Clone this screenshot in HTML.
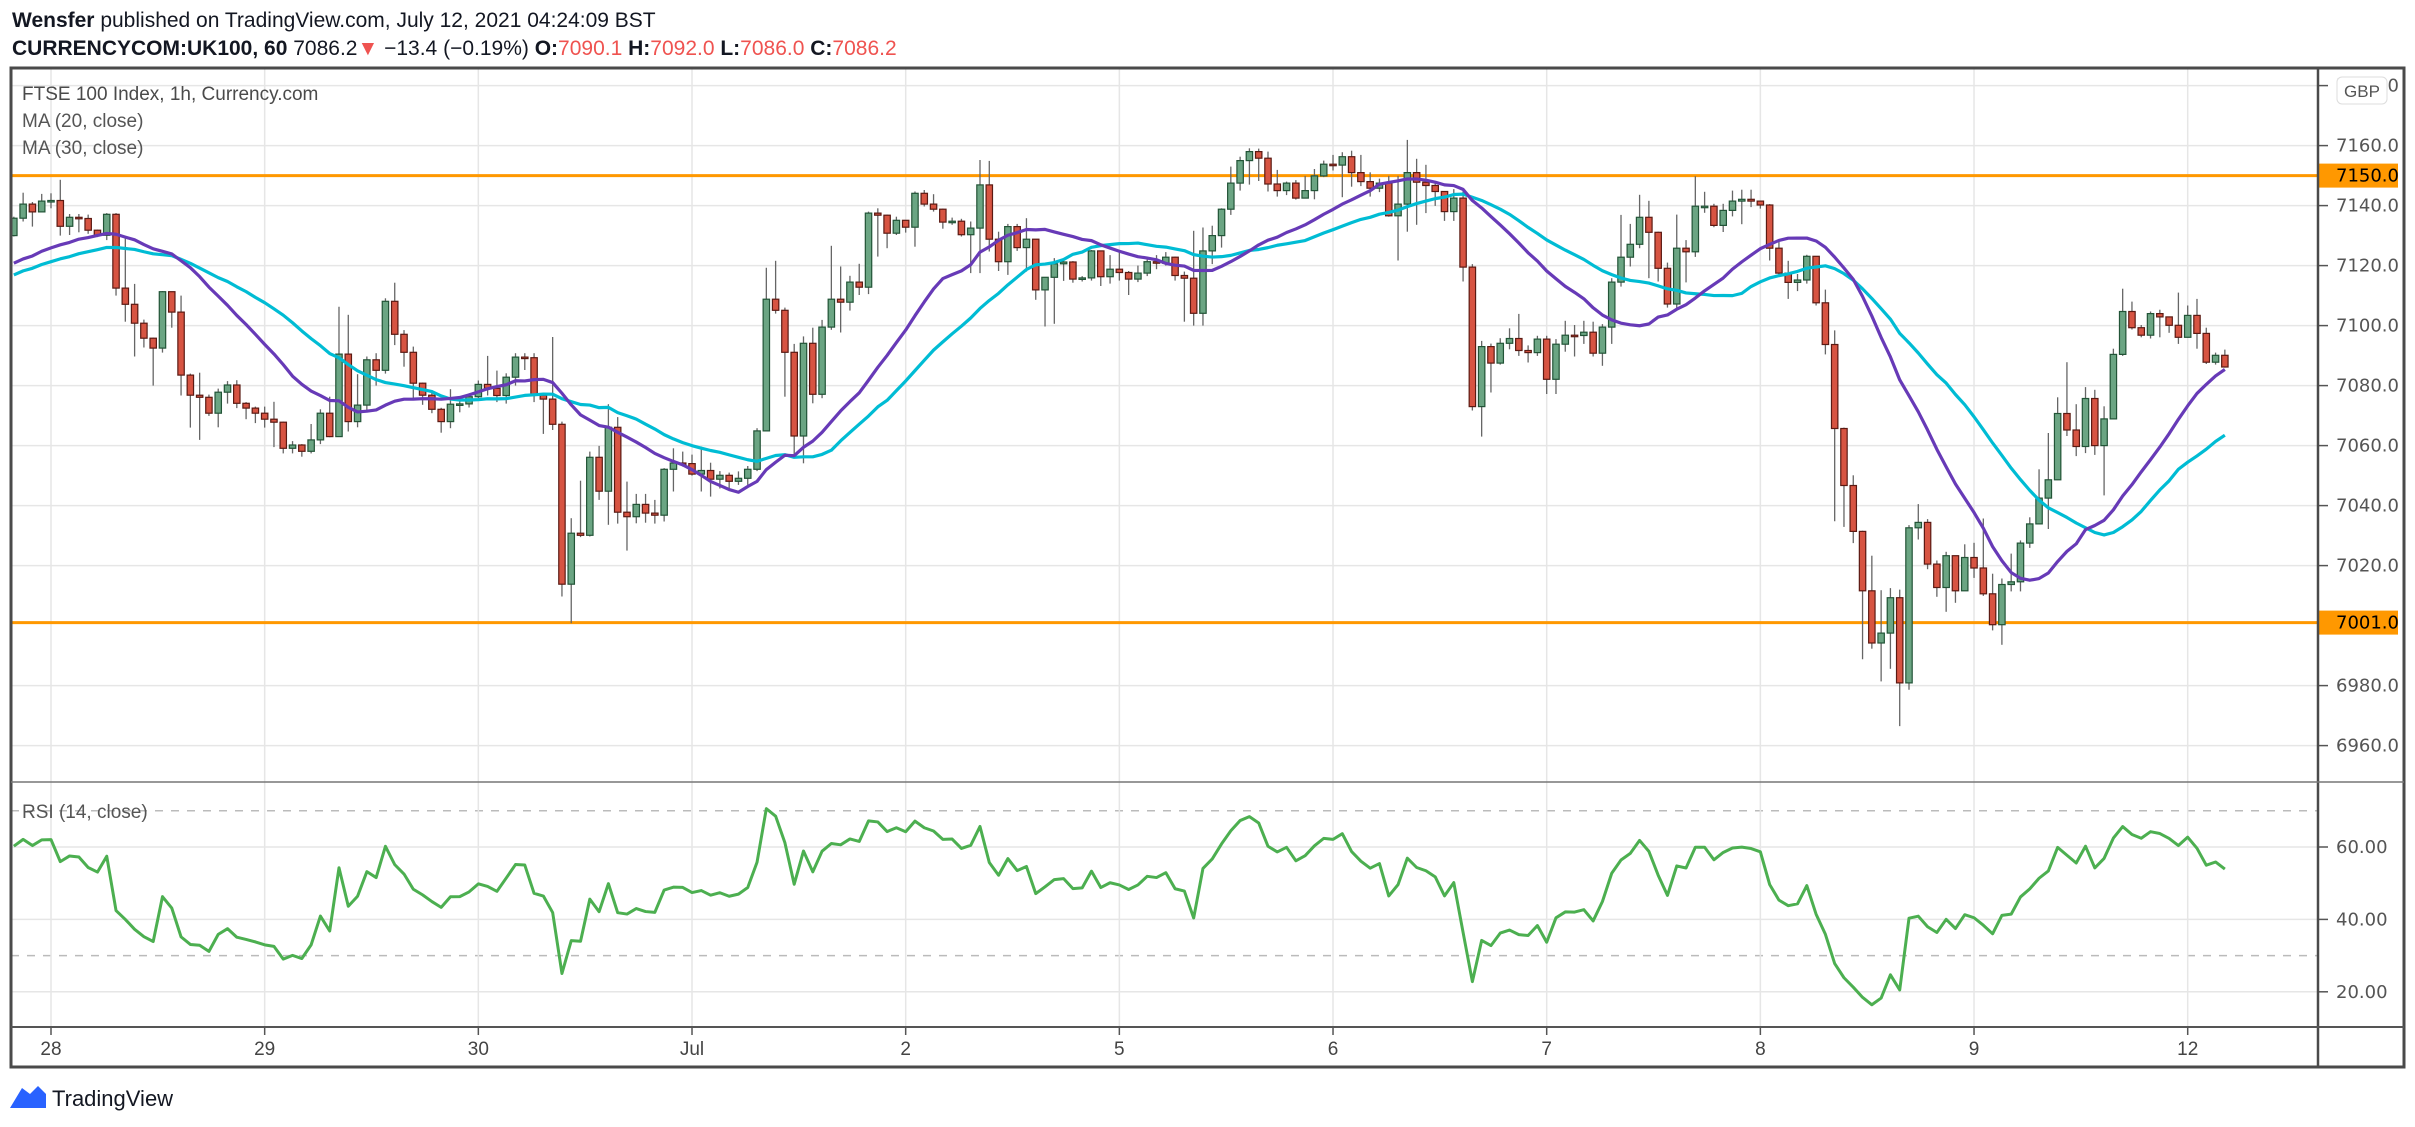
<!DOCTYPE html>
<html><head><meta charset="utf-8"><style>
html,body{margin:0;padding:0;background:#fff;}
svg{display:block;font-family:"Liberation Sans",sans-serif;}
</style></head><body>
<svg id="c" width="2415" height="1127" viewBox="0 0 2415 1127" xmlns="http://www.w3.org/2000/svg">
<defs><clipPath id="rsiclip"><rect x="11" y="783" width="2307" height="243"/></clipPath></defs>
<text x="12" y="27" font-size="21" fill="#131722"><tspan font-weight="bold">Wensfer</tspan> published on TradingView.com, July 12, 2021 04:24:09 BST</text>
<text x="12" y="55" font-size="21" font-weight="bold" fill="#131722">CURRENCYCOM:UK100, 60 <tspan font-weight="normal">7086.2</tspan><tspan fill="#ef5350" font-weight="normal">▼</tspan><tspan font-weight="normal"> −13.4 (−0.19%)</tspan> O:<tspan fill="#ef5350" font-weight="normal">7090.1</tspan> H:<tspan fill="#ef5350" font-weight="normal">7092.0</tspan> L:<tspan fill="#ef5350" font-weight="normal">7086.0</tspan> C:<tspan fill="#ef5350" font-weight="normal">7086.2</tspan></text>
<g id="grid"></g>
<g id="levels"></g>
<g id="candles"></g>
<g id="mas"></g>
<g id="rsi" clip-path="url(#rsiclip)"></g>
<g id="axes"></g>
<rect x="11" y="68" width="2393" height="999" fill="none" stroke="#4a4a4a" stroke-width="3"/>
<line x1="2318" y1="68" x2="2318" y2="1067" stroke="#4a4a4a" stroke-width="2.5"/>
<line x1="11" y1="782" x2="2404" y2="782" stroke="#777" stroke-width="1.5"/>
<line x1="11" y1="1027" x2="2404" y2="1027" stroke="#555" stroke-width="2"/>
<text x="22" y="100" font-size="19" fill="#4a4a4a">FTSE 100 Index, 1h, Currency.com</text>
<text x="22" y="127" font-size="19" fill="#555">MA (20, close)</text>
<text x="22" y="154" font-size="19" fill="#555">MA (30, close)</text>
<text x="22" y="818" font-size="19" fill="#555">RSI (14, close)</text>
<rect x="2337" y="77" width="50" height="27" rx="5" fill="#fff" stroke="#ddd"/>
<text x="2362" y="97" font-size="17" fill="#555" text-anchor="middle">GBP</text>
<g>
<path d="M10 1108 L22 1088 L30 1094 L38 1086 L46 1094 L46 1108 Z" fill="#2962ff"/>
<text x="52" y="1106" font-size="22" fill="#131722">TradingView</text>
</g>
</svg>
<script>
const preCloses=[7100,7112,7104,7113,7105,7114,7106,7112,7110,7115,7112,7118,7110,7119,7113,7120,7114,7121,7116,7124,7118,7126,7119,7127,7121,7128,7122,7129,7123];
const closes=[7135.8,7140.5,7137.9,7141.5,7141.7,7133.1,7136.1,7135.7,7131.8,7130.1,7137.1,7112.5,7107.1,7100.8,7095.8,7092.5,7111.3,7104.5,7083.5,7076.8,7076.1,7070.8,7077.8,7080.2,7074.1,7072.5,7070.8,7068.8,7067.8,7059.1,7060.2,7058.1,7061.9,7070.8,7063,7090.5,7068,7073.5,7088.6,7085.1,7108.1,7097.1,7091.1,7080.8,7076.8,7072.1,7068,7073.8,7073.9,7076.3,7080.4,7079.1,7076.7,7082.8,7089.5,7089.3,7076.8,7075.5,7067.1,7013.8,7030.8,7030.1,7056.1,7044.8,7066.1,7037.8,7036.3,7040.4,7037.5,7036.8,7052.1,7054.2,7054.0,7050.5,7051.7,7048.8,7050.1,7048.1,7049.1,7052.1,7064.9,7108.8,7105.1,7091.1,7063.2,7094.1,7077.1,7099.5,7108.8,7107.8,7114.5,7112.8,7137.5,7136.8,7130.8,7135.1,7132.8,7144.1,7140.5,7138.8,7134.5,7134.8,7130.3,7132.5,7146.9,7128.8,7121.3,7133,7126,7128.8,7111.9,7116.1,7120.6,7121.2,7115.5,7115.9,7124.9,7116.3,7118.8,7117.7,7115.5,7117.5,7121.3,7120.8,7122.8,7116.7,7115.8,7104.1,7124.9,7130,7138.8,7147.5,7155,7158,7155.8,7147.2,7145,7147.5,7142.5,7145,7149.9,7153.8,7153.5,7156.3,7151,7148,7145.8,7147.5,7136.6,7140.5,7151,7147.8,7146.7,7144.7,7138,7142.5,7119.5,7073,7093,7087.5,7094.1,7095.7,7091.7,7091,7095.5,7082.1,7093.8,7096.8,7096.7,7097.8,7090.8,7099.5,7114.5,7122.8,7127.1,7136.1,7131.1,7119.1,7107.2,7125.8,7124.6,7139.8,7139.8,7133.4,7138.4,7141.5,7142.1,7141.5,7140.2,7125.8,7117.5,7114.4,7115.2,7123.1,7107.6,7093.7,7065.7,7046.7,7031.4,7011.6,6994.2,6997.5,7009.3,6980.9,7032.6,7034.4,7020.5,7012.7,7023.3,7011.6,7022.7,7019.2,7010.6,7000.3,7013.7,7014.6,7027.5,7033.9,7042.5,7048.6,7070.7,7065.2,7059.7,7075.7,7060,7068.9,7090.4,7104.7,7099.3,7096.8,7104,7102.9,7100.1,7096.1,7103.4,7097.4,7087.8,7090.1,7086.2];
const highs=[7136.3,7144.3,7141.2,7143.9,7144.1,7148.6,7137.2,7137.2,7137.0,7132.0,7137.5,7137.5,7129.7,7113.9,7102.0,7096.0,7111.5,7111.0,7110.0,7084.0,7084.3,7077.0,7079.0,7081.5,7081.8,7074.5,7073.0,7073.0,7074.6,7068.0,7061.5,7060.5,7067.2,7072.1,7076.3,7106.3,7103.6,7083.8,7089.7,7090.8,7109.1,7114.3,7098.5,7093.0,7081.0,7078.5,7072.6,7078.8,7076.0,7077.4,7081.7,7089.9,7085.0,7084.1,7090.8,7090.8,7090.8,7076.9,7096.2,7068.0,7035.8,7048.3,7058.0,7059.9,7073.8,7069.5,7048.0,7043.9,7043.9,7041.9,7052.5,7059.1,7058.0,7057.0,7059.7,7054.3,7051.5,7051.0,7051.4,7053.2,7065.8,7119.3,7121.6,7106.0,7093.9,7096.4,7099.3,7101.9,7126.6,7119.7,7116.6,7120.6,7138.0,7139.1,7137.0,7136.3,7135.1,7144.7,7145.2,7143.8,7139.0,7136.0,7135.6,7134.7,7155.2,7154.9,7131.3,7133.9,7133.9,7135.8,7128.8,7116.1,7122.5,7122.5,7121.5,7116.5,7125.2,7125.0,7123.5,7124.5,7118.2,7120.0,7123.0,7123.5,7124.5,7123.0,7118.0,7131.6,7132.7,7133.3,7139.1,7153.0,7156.3,7159.1,7159.0,7158.0,7151.9,7148.0,7148.5,7149.9,7152.2,7155.0,7156.9,7157.8,7158.3,7156.9,7151.1,7149.0,7149.9,7149.9,7161.9,7155.6,7153.6,7147.5,7144.8,7145.5,7144.7,7120.5,7094.9,7094.0,7095.8,7099.1,7103.9,7093.4,7096.6,7096.6,7095.5,7101.6,7100.2,7101.6,7101.3,7100.5,7115.8,7136.9,7133.9,7143.6,7141.6,7131.3,7121.0,7137.0,7128.5,7149.8,7144.6,7140.6,7140.6,7145.0,7145.3,7145.3,7141.5,7140.5,7128.0,7121.6,7117.2,7123.6,7123.1,7112.0,7098.4,7066.0,7050.1,7031.6,7023.3,7011.8,7012.5,7012.0,7033.5,7040.5,7035.5,7021.7,7024.6,7023.0,7027.1,7027.6,7035.7,7017.3,7015.7,7024.0,7028.4,7036.1,7052.1,7064.2,7076.1,7087.8,7073.8,7079.5,7078.6,7073.1,7092.3,7112.3,7108.0,7100.2,7104.7,7105.3,7100.5,7111.0,7106.7,7108.9,7099.3,7091.0,7092.0];
const lows=[7129.7,7134.7,7133.0,7139.3,7139.1,7130.0,7130.2,7131.1,7130.6,7129.5,7128.5,7110.0,7101.3,7089.7,7092.7,7080.0,7091.0,7099.3,7076.7,7066.0,7061.9,7069.9,7066.1,7074.0,7072.5,7068.8,7067.5,7066.0,7059.5,7057.4,7057.4,7056.3,7057.4,7060.5,7062.8,7063.3,7064.7,7066.1,7071.4,7080.0,7084.0,7093.5,7086.3,7075.8,7073.6,7070.8,7064.3,7065.8,7071.1,7072.7,7075.8,7076.7,7074.5,7074.0,7080.0,7085.2,7074.5,7063.9,7065.2,7009.7,7000.8,7029.5,7029.7,7041.9,7033.6,7034.0,7025.0,7034.1,7034.3,7034.0,7034.7,7044.7,7053.0,7050.0,7044.7,7043.0,7045.7,7045.7,7046.9,7046.9,7051.5,7064.7,7104.0,7076.3,7056.9,7054.1,7074.1,7075.8,7098.6,7097.7,7105.0,7110.2,7110.5,7123.0,7125.8,7130.2,7131.0,7126.3,7139.7,7138.0,7132.3,7133.6,7129.7,7117.5,7117.5,7124.7,7118.2,7116.9,7124.9,7118.0,7108.6,7099.7,7100.6,7114.9,7114.3,7114.7,7115.0,7113.2,7114.0,7115.0,7110.2,7114.5,7116.5,7118.8,7120.0,7115.0,7101.3,7100.0,7100.0,7120.5,7126.0,7136.9,7145.0,7147.0,7148.2,7144.7,7143.0,7143.5,7142.0,7142.5,7142.1,7149.5,7151.7,7142.8,7146.3,7146.5,7143.0,7144.5,7136.3,7121.7,7131.3,7133.6,7137.5,7139.9,7134.9,7134.9,7114.7,7071.7,7063.0,7077.7,7087.0,7092.1,7089.9,7087.7,7089.9,7077.2,7077.2,7091.3,7089.7,7093.9,7089.7,7086.6,7093.9,7113.0,7119.7,7125.8,7115.8,7114.7,7106.0,7105.7,7114.4,7122.9,7137.6,7132.8,7131.2,7136.4,7133.8,7139.5,7139.0,7121.7,7117.0,7108.9,7111.5,7114.0,7106.7,7090.4,7034.8,7032.9,7027.5,6988.8,6992.3,6981.4,6985.6,6966.5,6978.6,7028.7,7018.8,7009.6,7004.6,7007.6,7019.9,7015.9,7009.9,6998.4,6993.6,7011.4,7011.4,7025.9,7034.2,7032.2,7048.5,7063.2,7056.5,7057.5,7056.9,7043.4,7068.9,7089.9,7098.7,7096.1,7095.7,7096.1,7097.6,7093.9,7096.0,7092.3,7087.2,7087.0,7086.0];
const firstOpen=7130.0;
const priceTicks=[7180,7160,7140,7120,7100,7080,7060,7040,7020,6980,6960];
const levels=[7150.0,7001.0];
const rsiTicks=[60,40,20];
const rsiBands=[70,30];
const dayLabels=["28","29","30","Jul","2","5","6","7","8","9","12"];
const dayStartIdx=[4,27,50,73,96,119,142,165,188,211,234];

const NS="http://www.w3.org/2000/svg";
const X0=11,X1=2318,PT=68,PB=782,RT=782,RB=1027;
const xOf=i=>51+(i-4)*9.29;
const yP=p=>175.6+(7150-p)*3;
const yR=v=>847+(60-v)*3.62;
function mk(tag,attrs,parent){const e=document.createElementNS(NS,tag);for(const k in attrs)e.setAttribute(k,attrs[k]);parent.appendChild(e);return e;}
const grid=document.getElementById('grid'),axes=document.getElementById('axes');

priceTicks.forEach(p=>{
  const y=yP(p);
  const l=mk('line',{x1:X0,x2:X1,y1:y,y2:y,stroke:'#e6e6e6','stroke-width':1.5},grid);
  
  
  const t=mk('line',{x1:X1,x2:X1+10,y1:y,y2:y,stroke:'#555','stroke-width':1.5},axes);
  
  
  const tx=mk('text',{x:2336,y:y+6,'font-size':18,fill:'#555','font-family':'"DejaVu Sans",sans-serif'},axes);
  tx.textContent=p.toFixed(1);
  
  
});
rsiTicks.forEach(v=>{
  const y=yR(v);
  const l=mk('line',{x1:X0,x2:X1,y1:y,y2:y,stroke:'#e6e6e6','stroke-width':1.5},grid);
  
  
  const t=mk('line',{x1:X1,x2:X1+10,y1:y,y2:y,stroke:'#555','stroke-width':1.5},axes);
  
  
  const tx=mk('text',{x:2336,y:y+6,'font-size':18,fill:'#555','font-family':'"DejaVu Sans",sans-serif'},axes);
  tx.textContent=v.toFixed(2);
  
  
});
rsiBands.forEach(v=>{
  const y=yR(v);
  const l=mk('line',{x1:X0,x2:X1,y1:y,y2:y,stroke:'#bbb','stroke-width':1.5,'stroke-dasharray':'8 8'},grid);
  
  
});
dayLabels.forEach((d,k)=>{
  const x=xOf(dayStartIdx[k]);
  const l=mk('line',{x1:x,x2:x,y1:PT,y2:RB,stroke:'#e6e6e6','stroke-width':1.5},grid);
  
  
  const t=mk('line',{x1:x,x2:x,y1:RB,y2:RB+8,stroke:'#555','stroke-width':1.5},axes);
  
  
  const tx=mk('text',{x:x,y:1055,'font-size':19,fill:'#444','text-anchor':'middle'},axes);
  tx.textContent=d;
  
  
});

const lv=document.getElementById('levels');
levels.forEach(p=>{
  const y=yP(p);
  const l=mk('line',{x1:X0,x2:X1,y1:y,y2:y,stroke:'#ff9800','stroke-width':3},lv);
  
  
  const r=mk('rect',{x:X1,y:y-12,width:80,height:24,fill:'#ff9800'},axes);
  
  
  const tx=mk('text',{x:2336,y:y+6,'font-size':18,fill:'#000','font-family':'"DejaVu Sans",sans-serif'},axes);
  tx.textContent=p.toFixed(1);
  
  
});

const cg=document.getElementById('candles');
closes.forEach((c,i)=>{
  const o=i===0?firstOpen:closes[i-1];
  const up=c>=o, x=xOf(i);
  const w=mk('line',{x1:x,x2:x,y1:yP(highs[i]),y2:yP(lows[i]),stroke:'#666','stroke-width':1.3},cg);
  
  
  const top=yP(Math.max(o,c)),bot=yP(Math.min(o,c));
  const b=mk('rect',{x:x-3.2,y:top,width:6.4,height:Math.max(1.5,bot-top),fill:up?'#6ba583':'#d75442',stroke:up?'#225437':'#5b1a13','stroke-width':1.2},cg);
  
  
});

const all=preCloses.concat(closes), P=preCloses.length;
function ma(n){const pts=[];for(let i=0;i<closes.length;i++){let s=0;for(let j=P+i-n+1;j<=P+i;j++)s+=all[j];pts.push([xOf(i),yP(s/n)]);}return pts;}
const mg=document.getElementById('mas');
const l30=mk('polyline',{points:ma(30).map(p=>p.join(',')).join(' '),fill:'none',stroke:'#00bcd4','stroke-width':3.2,'stroke-linejoin':'round'},mg);


const l20=mk('polyline',{points:ma(20).map(p=>p.join(',')).join(' '),fill:'none',stroke:'#673ab7','stroke-width':3.2,'stroke-linejoin':'round'},mg);



// RSI (Wilder, 14)
let ag=0,al=0;const rsiPts=[];
for(let j=1;j<all.length;j++){
  const d=all[j]-all[j-1],g=Math.max(d,0),l=Math.max(-d,0);
  if(j<=14){ag+=g/14;al+=l/14;}else{ag=(ag*13+g)/14;al=(al*13+l)/14;}
  if(j>=P){const r=al===0?100:100-100/(1+ag/al);rsiPts.push([xOf(j-P),yR(r)]);}
}
const rl=mk('polyline',{points:rsiPts.map(p=>p.join(',')).join(' '),fill:'none',stroke:'#4caf50','stroke-width':3,'stroke-linejoin':'round'},document.getElementById('rsi'));


</script>
</body></html>
